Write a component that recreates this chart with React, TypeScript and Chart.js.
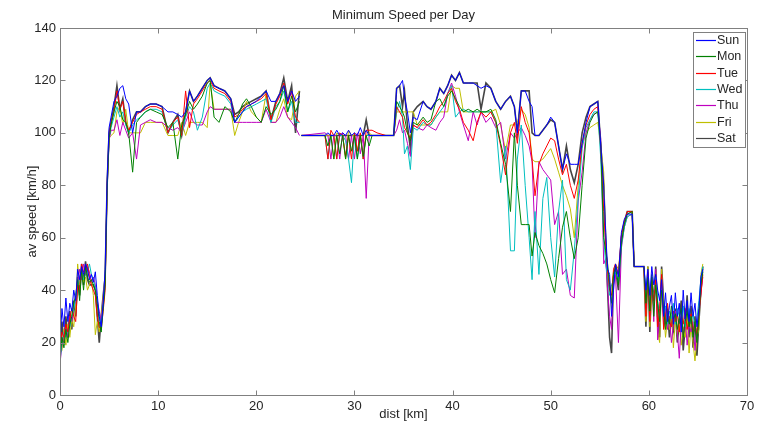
import React, { useEffect, useRef } from "react";
import { Chart, registerables } from "chart.js";

Chart.register(...registerables);

const chartTitle = "Minimum Speed per Day";
const xLabel = "dist [km]";
const yLabel = "av speed [km/h]";
const xTicks = [0, 10, 20, 30, 40, 50, 60, 70];
const yTicks = [0, 20, 40, 60, 80, 100, 120, 140];
const days = ["Sun", "Mon", "Tue", "Wed", "Thu", "Fri", "Sat"];

// distance along route [km]
const dist = [
  0, 0.2, 0.4, 0.6, 0.8, 1.0, 1.2, 1.4, 1.6, 1.8, 2.0, 2.2, 2.4, 2.6, 2.8, 3.0, 3.2, 3.4, 3.6, 3.8, 4.0, 4.2, 4.4, 4.6,
  4.8, 5.0, 5.2,
  5.5, 5.8, 6.1, 6.4, 6.7, 7.0, 7.4, 7.8, 8.2, 8.7, 9.2, 9.8, 10.4, 11.0, 11.5, 12.0, 12.4, 12.8, 13.2, 13.6, 14.0, 14.5, 15.0, 15.3, 15.7, 16.2, 16.8, 17.4, 17.8, 18.2, 18.6, 19.0, 19.5, 20.0, 20.5, 21.0, 21.5, 22.0, 22.4, 22.8, 23.2, 23.6, 24.0, 24.4,
  24.5,
  24.6, 27.0, 27.3, 27.6, 27.9, 28.2, 28.5, 28.8, 29.1, 29.4, 29.7, 30.0, 30.3, 30.6, 30.9, 31.2, 31.5, 31.8, 32.3, 33.2, 34.0,
  34.3, 34.6, 34.9, 35.1, 35.4, 35.7, 36.0, 36.4, 37.0, 37.4, 37.8, 38.3, 38.7, 39.1, 39.5, 39.9, 40.3, 40.7, 41.1, 41.6, 42.1, 42.5, 42.9, 43.4, 43.9, 44.4, 44.9, 45.4, 45.9,
  46.3, 46.6, 47.0, 47.4, 47.8, 48.1, 48.4, 48.8, 49.2, 49.6, 50.0, 50.4, 50.8, 51.2, 51.6, 52.0, 52.4,
  52.8, 53.2, 53.6, 54.0, 54.4, 54.8, 55.1, 55.4,
  55.6, 55.8, 56.0, 56.2, 56.4, 56.6, 56.9, 57.2, 57.5, 57.8, 58.3, 58.5, 59.5,
  59.7, 59.9, 60.1, 60.3, 60.5, 60.7, 60.9, 61.1, 61.3, 61.5, 61.7, 61.9, 62.1, 62.3, 62.5, 62.7, 62.9, 63.1, 63.3, 63.5, 63.7, 63.9, 64.1, 64.3, 64.5, 64.7, 64.9, 65.1, 65.3, 65.5,
];

const sun = [
  20, 33, 26, 37, 28, 35, 32, 40, 36, 48, 44, 49, 46, 50, 48, 44, 46, 43, 47, 38, 30, 26, 35, 48,
  82, 102, 106,
  112, 114, 117, 118, 113, 111, 100, 108, 108, 110, 111, 111, 110, 108, 108, 107, 106, 108, 116, 112, 114, 117, 120, 121, 118, 117, 116, 113, 104, 106, 108, 110, 111, 112, 114, 116, 112, 112, 115, 118, 112, 116, 112, 114,
  null,
  99, 99, 100, 99, 99, 101, 99, 100, 99, 101, 99, 100, 99, 102, 99, 101, 99, 99, 99, 99, 99,
  117, 118, 120, 114, 108, 100, 106, 105, 112, 110, 109, 112, 117, 115, 118, 122, 120, 123, 119, 119, 119, 118, 117, 118, 117, 112, 109, 112, 114,
  110, 100, 116, 116, 112, 110, 99, 99, 101, 103, 106, 104, 95, 86, 92, 88, 88,
  88, 96, 104, 110, 111, 112, 95, 80,
  62, 48, 46, 30, 40, 50, 45, 62, 67, 69, 69, 49, 49,
  40, 48, 38, 49, 42, 46, 40, 36, 44, 30, 39, 28, 34, 38, 27, 39, 30, 35, 24, 40, 29, 36, 28, 39, 30, 35, 26, 33, 45, 48,
];

const mon = [
  14, 22, 18, 25, 20, 27, 30, 35, 38, 44, 36, 48, 40, 49, 45, 43, 44, 42, 40, 35, 28, 24, 33, 42,
  78, 98, 103,
  108, 112, 110, 105, 104, 100, 85, 104, 106, 108, 109, 108, 107, 102, 104, 90, 103, 107, 112, 109, 111, 114, 119, 120, 106, 104, 110, 108, 104, 107, 111, 113, 110, 106, 104, 110, 107, 109, 112, 118, 108, 114, 108, 112,
  null,
  99, 99, 95, 99, 90, 99, 92, 99, 90, 99, 93, 99, 90, 99, 91, 99, 95, 99, 99, 99, 99,
  112, 110, 108, 106, 100, 97, 104, 103, 106, 104, 105, 112, 113, 110, 114, 116, 113, 110, 108, 109, 108, 109, 108, 108, 109, 105, 96, 88, 70,
  100, 80, 65, 65, 65, 53, 62, 57, 54, 50, 44, 39, 52, 64, 70, 60, 52,
  60, 80, 98, 104, 107, 108, 96, 60,
  55, 50, 42, 35, 46, 49, 42, 58, 65, 69, 70, 49, 49,
  35, 45, 32, 46, 30, 42, 35, 28, 40, 33, 25, 30, 27, 34, 29, 31, 25, 30, 33, 22, 28, 32, 26, 30, 22, 28, 20, 30, 42, 47,
];

const tue = [
  18, 24, 22, 27, 24, 29, 33, 30, 28, 42, 40, 50, 47, 48, 50, 45, 42, 40, 38, 30, 26, 25, 32, 40,
  80, 99, 104,
  108, 116, 109, 112, 104, 101, 104, 107, 108, 109, 110, 110, 109, 100, 104, 106, 99, 116, 102, 111, 113, 116, 119, 120, 117, 116, 115, 112, 106, 107, 109, 110, 111, 112, 113, 115, 105, 111, 114, 119, 111, 116, 106, 104,
  null,
  99, 99, 90, 101, 99, 90, 100, 99, 91, 99, 90, 100, 93, 100, 90, 101, 101, 101, 100, 99, 99,
  110, 108, 106, 102, 100, 98, 103, 102, 105, 103, 104, 107, 110, 112, 115, 117, 112, 109, 104, 101, 97, 104, 108, 106, 108, 104, 95, 84, 100,
  104, 96, 110, 104, 100, 90, 76, 88, 92, 95, 98, 97, 90, 84, 88, 80, 75,
  82, 96, 103, 107, 109, 110, 94, 70,
  58, 47, 40, 38, 48, 50, 46, 61, 66, 70, 70, 49, 49,
  30, 47, 28, 43, 36, 44, 26, 33, 46, 25, 30, 35, 28, 26, 32, 28, 31, 24, 30, 27, 33, 25, 29, 31, 24, 27, 23, 32, 38, 46,
];

const wed = [
  13, 20, 24, 22, 25, 26, 30, 33, 37, 40, 45, 47, 44, 46, 47, 50, 46, 44, 41, 35, 30, 27, 34, 43,
  79, 98, 102,
  106, 110, 106, 108, 103, 100, 103, 105, 106, 108, 109, 109, 108, 100, 103, 105, 99, 106, 110, 108, 101, 106, 117, 119, 116, 115, 114, 111, 104, 106, 108, 109, 110, 111, 112, 113, 104, 110, 112, 116, 108, 112, 104, 104,
  null,
  99, 99, 90, 99, 99, 90, 99, 99, 97, 90, 81, 99, 90, 99, 90, 99, 99, 99, 99, 99, 99,
  108, 112, 106, 92, 95, 86, 102, 101, 104, 103, 103, 106, 108, 110, 115, 118, 106, 108, 109, 108, 108, 108, 108, 108, 108, 104, 81, 95, 55,
  55, 90, 103, 80, 60, 44, 70, 46, 75, 83, 60, 45, 70, 82, 44, 40, 55,
  75, 94, 102, 105, 108, 108, 90, 60,
  50, 45, 38, 42, 44, 47, 43, 57, 64, 68, 69, 49, 49,
  38, 44, 34, 40, 38, 45, 36, 30, 42, 31, 34, 27, 32, 29, 35, 27, 33, 30, 28, 34, 26, 30, 33, 28, 31, 25, 29, 36, 44, 49,
];

const thu = [
  12, 19, 23, 26, 22, 30, 28, 33, 36, 42, 48, 44, 50, 46, 49, 47, 43, 45, 42, 36, 32, 28, 36, 44,
  78, 97, 101,
  101, 105, 99, 104, 101, 98, 100, 90, 103, 104, 105, 104, 104, 102, 101, 102, 100, 104, 108, 104, 103, 103, 108, 110, 109, 109, 109, 109, 104, 104, 104, 104, 104, 104, 104, 109, 104, 104, 106, 110, 106, 104, 102, 99,
  null,
  99, 100, 99, 90, 99, 99, 90, 100, 99, 90, 99, 90, 100, 92, 99, 75, 99, 99, 99, 99, 99,
  101, 105, 100, 101, 96, 91, 103, 102, 101, 103, 102, 101, 104, 106, 115, 119, 114, 108, 103, 97, 108, 103, 108, 104, 106, 102, 104, 90, 100,
  98, 100, 102, 99, 95, 89, 60, 89, 86, 84, 82, 65, 70, 46, 48, 38, 37,
  74, 85, 100, 105, 107, 108, 98, 50,
  52, 40, 30, 25, 42, 46, 20, 56, 64, 68, 69, 49, 49,
  33, 46, 30, 44, 28, 48, 21, 31, 45, 26, 33, 25, 30, 20, 27, 32, 24, 14, 28, 23, 30, 19, 27, 24, 28, 17, 25, 30, 39, 45,
];

const fri = [
  16, 17, 25, 19, 27, 22, 29, 26, 34, 50, 42, 48, 43, 45, 40, 42, 44, 38, 23, 28, 24, 30, 37, 46,
  80, 98, 99,
  100, 108, 110, 103, 109, 100, 100, 100, 100, 104, 104, 104, 104, 99, 99, 99, 104, 99, 104, 104, 104, 104, 102, 119, 109, 109, 109, 109, 99, 104, 108, 112, 108, 106, 104, 115, 104, 104, 109, 113, 106, 105, 114, 116,
  null,
  99, 99, 99, 99, 90, 100, 99, 99, 90, 101, 99, 99, 93, 99, 90, 99, 100, 99, 99, 99, 99,
  108, 108, 108, 108, 108, 108, 108, 103, 103, 103, 103, 106, 108, 108, 108, 118, 117, 117, 108, 108, 108, 108, 108, 108, 108, 109, 103, 93, 103,
  103, 104, 109, 107, 102, 90, 89, 89, 90, 92, 94, 90, 85, 80, 76, 71, 60,
  80, 95, 100, 102, 103, 104, 95, 85,
  56, 46, 44, 33, 47, 50, 48, 59, 65, 69, 70, 49, 49,
  28, 49, 26, 38, 34, 47, 24, 20, 48, 32, 22, 29, 25, 31, 18, 29, 23, 27, 19, 26, 22, 30, 16, 27, 20, 13, 22, 25, 46, 50,
];

const sat = [
  15, 28, 20, 30, 22, 32, 25, 36, 30, 45, 38, 50, 42, 51, 44, 42, 42, 42, 40, 30, 20, 30, 38, 45,
  80, 100, 104,
  110, 118, 109, 113, 104, 100, 105, 108, 108, 110, 111, 111, 110, 100, 104, 107, 99, 108, 116, 112, 114, 117, 120, 121, 118, 117, 116, 113, 107, 108, 110, 111, 112, 113, 114, 116, 105, 112, 115, 121, 112, 118, 100, 116,
  null,
  99, 99, 99, 99, 99, 99, 99, 99, 99, 99, 99, 99, 99, 99, 99, 105, 99, 99, 99, 99, 99,
  117, 118, 110, 116, 103, 94, 108, 110, 112, 110, 109, 112, 117, 115, 118, 122, 120, 123, 119, 119, 119, 119, 109, 119, 117, 112, 109, 112, 114,
  110, 100, 116, 116, 116, 100, 99, 99, 101, 103, 105, 104, 95, 86, 95, 86, 81,
  88, 100, 106, 110, 111, 112, 95, 80,
  60, 40, 22, 16, 45, 48, 40, 60, 66, 70, 70, 49, 49,
  26, 49, 24, 45, 35, 49, 30, 22, 49, 36, 28, 32, 22, 30, 25, 33, 20, 28, 36, 17, 26, 38, 22, 34, 18, 30, 15, 28, 40, 49,
];

const seriesValues = [sun, mon, tue, wed, thu, fri, sat];

// styles
const COLORS = ["#0000ff", "#008000", "#ff0000", "#00bfbf", "#bf00bf", "#bfbf00", "#454545"];
const WIDTHS = [1, 1, 1, 1, 1, 1, 1.6];
const FONT = '"Liberation Sans", Arial, sans-serif';
const TEXT = "#262626";
const AXIS = "#808080";

const framePlugin = {
  id: "matlabFrame",
  afterDraw(chart: any) {
    const { ctx, chartArea: a, scales } = chart;
    ctx.save();
    ctx.strokeStyle = AXIS;
    ctx.lineWidth = 1;
    const L = Math.round(a.left) + 0.5;
    const R = Math.round(a.right) + 0.5;
    const T = Math.round(a.top) + 0.5;
    const B = Math.round(a.bottom) + 0.5;
    ctx.strokeRect(L, T, R - L, B - T);
    const tl = 5;
    ctx.beginPath();
    xTicks.forEach((v) => {
      const px = Math.round(scales.x.getPixelForValue(v)) + 0.5;
      ctx.moveTo(px, B);
      ctx.lineTo(px, B - tl);
      ctx.moveTo(px, T);
      ctx.lineTo(px, T + tl);
    });
    yTicks.forEach((v) => {
      const py = Math.round(scales.y.getPixelForValue(v)) + 0.5;
      ctx.moveTo(L, py);
      ctx.lineTo(L + tl, py);
      ctx.moveTo(R, py);
      ctx.lineTo(R - tl, py);
    });
    ctx.stroke();

    // title
    ctx.fillStyle = TEXT;
    ctx.font = `13px ${FONT}`;
    ctx.textAlign = "center";
    ctx.textBaseline = "middle";
    ctx.fillText(chartTitle, (a.left + a.right) / 2, 15);

    // legend
    const bx = 693.5, by = 32.5, bw = 52, bh = 115;
    ctx.fillStyle = "#ffffff";
    ctx.fillRect(bx, by, bw, bh);
    ctx.strokeStyle = AXIS;
    ctx.strokeRect(bx, by, bw, bh);
    ctx.textAlign = "left";
    ctx.font = `12.5px ${FONT}`;
    days.forEach((d, i) => {
      const y = 40 + i * 16.33;
      ctx.strokeStyle = COLORS[i];
      ctx.lineWidth = 1.2;
      ctx.beginPath();
      ctx.moveTo(696, Math.round(y) + 0.5);
      ctx.lineTo(716, Math.round(y) + 0.5);
      ctx.stroke();
      ctx.fillStyle = TEXT;
      ctx.fillText(d, 717, y + 0.5);
    });
    ctx.restore();
  },
};

export default function App() {
  const ref = useRef<HTMLCanvasElement>(null);
  useEffect(() => {
    document.body.style.margin = "0";
    const canvas = ref.current;
    if (!canvas) return;
    const datasets = days.map((d, i) => ({
      label: d,
      data: dist.map((x, k) => ({ x, y: seriesValues[i][k] })),
      borderColor: COLORS[i],
      backgroundColor: COLORS[i],
      borderWidth: WIDTHS[i],
      pointRadius: 0,
      fill: false,
      tension: 0,
      spanGaps: false,
    }));
    const chart = new Chart(canvas, {
      type: "line",
      data: { datasets },
      options: {
        animation: false,
        responsive: false,
        maintainAspectRatio: false,
        layout: { padding: { top: 28, right: 14, left: 0, bottom: 0 } },
        plugins: { legend: { display: false }, title: { display: false }, tooltip: { enabled: false } },
        scales: {
          x: {
            type: "linear",
            min: 0,
            max: 70,
            afterBuildTicks: (s: any) => {
              s.ticks = xTicks.map((v) => ({ value: v }));
            },
            afterFit: (s: any) => {
              s.height = 28;
            },
            grid: { display: false, drawTicks: false },
            border: { display: false },
            ticks: { padding: 4, color: TEXT, font: { family: FONT, size: 13 }, maxRotation: 0 },
            title: { display: true, text: xLabel, color: TEXT, font: { family: FONT, size: 13 }, padding: { top: 0, bottom: 1 } },
          },
          y: {
            type: "linear",
            min: 0,
            max: 140,
            afterBuildTicks: (s: any) => {
              s.ticks = yTicks.map((v) => ({ value: v }));
            },
            afterFit: (s: any) => {
              s.width = 60;
            },
            grid: { display: false, drawTicks: false },
            border: { display: false },
            ticks: { padding: 4, color: TEXT, font: { family: FONT, size: 13 } },
            title: { display: true, text: yLabel, color: TEXT, font: { family: FONT, size: 13 }, padding: { top: 25, bottom: 0 } },
          },
        },
      },
      plugins: [framePlugin],
    });
    return () => chart.destroy();
  }, []);
  return (
    <div style={{ width: 761, height: 423 }}>
      <canvas ref={ref} width={761} height={423} />
    </div>
  );
}
